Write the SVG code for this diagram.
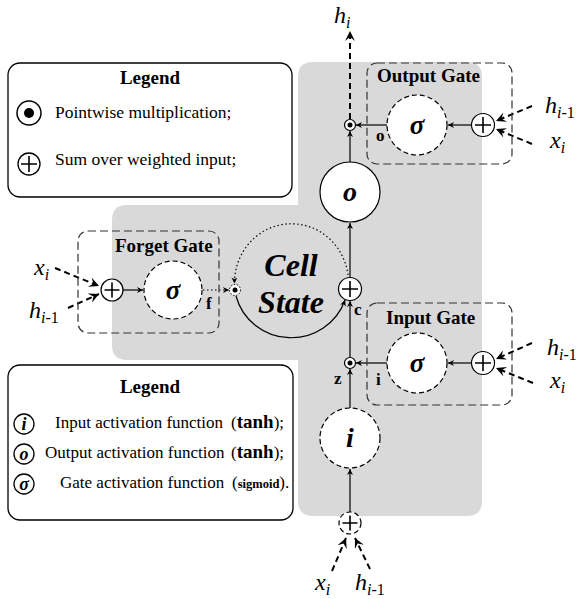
<svg xmlns="http://www.w3.org/2000/svg" width="579" height="599" viewBox="0 0 579 599">
<style>
text{font-family:"Liberation Serif","Times New Roman",serif;fill:#000}
.b{font-weight:bold}
.bi{font-weight:bold;font-style:italic}
.it{font-style:italic;font-size:24px}
.sub{font-size:16px}
.up{font-style:normal}
.lb{font-weight:bold;font-size:17px}
.ln{stroke:#000;stroke-width:1.2;fill:none}
.da{stroke:#000;stroke-width:2;fill:none;stroke-dasharray:6 4}
.dot{stroke:#000;stroke-width:1.2;fill:none;stroke-dasharray:1.5 2.5}
.gate{fill:none;stroke:#333;stroke-width:1.2;stroke-dasharray:8 4}
.wc{fill:#fff;stroke:#000;stroke-width:1.2}
.wcd{fill:#fff;stroke:#000;stroke-width:1.2;stroke-dasharray:5 3}
.leg{fill:#fff;stroke:#000;stroke-width:1.3}
.pl{stroke:#000;stroke-width:1.6;fill:none}
</style>
<defs>
<marker id="a" viewBox="0 0 10 10" refX="10" refY="5" markerWidth="7" markerHeight="6" markerUnits="userSpaceOnUse" orient="auto">
<path d="M0,0 L10,5 L0,10 L3,5 Z" fill="#000"/>
</marker>
<marker id="b" viewBox="0 0 10 10" refX="10" refY="5" markerWidth="11" markerHeight="10" markerUnits="userSpaceOnUse" orient="auto">
<path d="M0,0 L10,5 L0,10 L4,5 Z" fill="#000"/>
</marker>
</defs>

<path id="cell-area" d="M313,62 H467 Q482,62 482,77 V501 Q482,516 467,516 H313 Q298,516 298,501 V360 H127 Q112,360 112,345 V220 Q112,205 127,205 H298 V77 Q298,62 313,62 Z" fill="#d9d9d9"/>

<g id="legend1">
<rect class="leg" x="8" y="63" width="284" height="134" rx="12"/>
<text x="150" y="84" text-anchor="middle" class="b" font-size="19">Legend</text>
<circle cx="29" cy="113" r="12" fill="#fff" stroke="#000" stroke-width="1.5"/>
<circle cx="29" cy="113" r="5" fill="#000"/>
<text x="55" y="118" font-size="17.5">Pointwise multiplication;</text>
<circle cx="29" cy="164" r="11" fill="#fff" stroke="#000" stroke-width="1.3"/>
<path class="pl" d="M21,164 H37 M29,156 V172"/>
<text x="55" y="165" font-size="17.5">Sum over weighted input;</text>
</g>

<g id="legend2">
<rect class="leg" x="8" y="365" width="285" height="155" rx="12"/>
<text x="150" y="393" text-anchor="middle" class="b" font-size="19">Legend</text>
<circle cx="24" cy="424" r="10" fill="#fff" stroke="#000" stroke-width="1.3"/>
<text x="24" y="430" text-anchor="middle" class="bi" font-size="18">i</text>
<text x="55" y="428" font-size="17">Input activation function<tspan x="231">(</tspan><tspan class="b" font-size="19">tanh</tspan>);</text>
<circle cx="24" cy="454" r="10" fill="#fff" stroke="#000" stroke-width="1.3"/>
<text x="24" y="460" text-anchor="middle" class="bi" font-size="18">o</text>
<text x="45" y="458" font-size="17">Output activation function<tspan x="231">(</tspan><tspan class="b" font-size="19">tanh</tspan>);</text>
<circle cx="24" cy="484" r="10" fill="#fff" stroke="#000" stroke-width="1.3"/>
<text x="24" y="490" text-anchor="middle" class="bi" font-size="18">σ</text>
<text x="60" y="488" font-size="17">Gate activation function<tspan x="232">(</tspan><tspan class="b" font-size="12.5">sigmoid</tspan>).</text>
</g>

<g id="connectors">
<line class="da" x1="350" y1="119" x2="350" y2="31" marker-end="url(#b)"/>
<line class="ln" x1="350" y1="162" x2="350" y2="131" marker-end="url(#a)"/>
<line class="ln" x1="387" y1="125" x2="356" y2="125" marker-end="url(#a)"/>
<line class="ln" x1="471.5" y1="125" x2="448" y2="125" marker-end="url(#a)"/>
<line class="da" x1="532" y1="106" x2="496" y2="121" marker-end="url(#b)"/>
<line class="da" x1="532" y1="144" x2="496" y2="129" marker-end="url(#b)"/>
<line class="ln" x1="350" y1="277.5" x2="350" y2="223" marker-end="url(#a)"/>
<line class="ln" x1="350" y1="357.5" x2="350" y2="301" marker-end="url(#a)"/>
<line class="ln" x1="350" y1="408" x2="350" y2="369" marker-end="url(#a)"/>
<line class="ln" x1="350" y1="512" x2="350" y2="469" marker-end="url(#a)"/>
<line class="ln" x1="387" y1="363" x2="356" y2="363" marker-end="url(#a)"/>
<line class="ln" x1="471.5" y1="363" x2="448" y2="363" marker-end="url(#a)"/>
<line class="da" x1="532" y1="343" x2="496" y2="359" marker-end="url(#b)"/>
<line class="da" x1="533" y1="383" x2="496" y2="368" marker-end="url(#b)"/>
<line class="da" x1="332" y1="571" x2="346" y2="538" marker-end="url(#b)"/>
<line class="da" x1="370" y1="569" x2="355" y2="538" marker-end="url(#b)"/>
<line class="da" x1="55" y1="268" x2="99" y2="286" marker-end="url(#b)"/>
<line class="da" x1="68" y1="308" x2="99" y2="294" marker-end="url(#b)"/>
<line class="ln" x1="123" y1="290" x2="143" y2="290" marker-end="url(#a)"/>
<line class="dot" x1="203" y1="290" x2="229" y2="290" marker-end="url(#a)"/>
<path class="dot" d="M348,275 A57,59 0 0 0 234.5,283.5" marker-end="url(#a)"/>
<path class="ln" d="M236,296 A57,56 0 0 0 345,300" marker-end="url(#a)"/>
</g>

<g id="output-gate">
<rect class="gate" x="367" y="63" width="145" height="101" rx="10"/>
<text x="377" y="82" class="b" font-size="19">Output Gate</text>
<circle class="wcd" cx="417" cy="125" r="30"/>
<text x="417" y="134" text-anchor="middle" class="bi" font-size="27">σ</text>
<circle class="wc" cx="483" cy="125" r="11.5"/>
<path class="pl" d="M475,125 H491 M483,117 V133"/>
<text x="376" y="141" class="lb">o</text>
</g>

<g id="output-mult">
<circle class="wc" cx="350" cy="125" r="5.5"/>
<circle cx="350" cy="125" r="2.5" fill="#000"/>
</g>

<g id="output-activation">
<circle class="wc" cx="350" cy="192" r="30"/>
<text x="350" y="201" text-anchor="middle" class="bi" font-size="28">o</text>
</g>

<g id="cell-sum">
<circle class="wc" cx="350" cy="289" r="11.5"/>
<path class="pl" d="M342,289 H358 M350,281 V297"/>
<text x="354" y="315" class="lb">c</text>
</g>

<g id="cell-state">
<text x="291" y="276" text-anchor="middle" class="bi" font-size="32">Cell</text>
<text x="291" y="313" text-anchor="middle" class="bi" font-size="32">State</text>
</g>

<g id="forget-mult">
<circle cx="235" cy="290" r="5.5" fill="#fff" stroke="#000" stroke-width="1" stroke-dasharray="1.5 1.5"/>
<circle cx="235" cy="290" r="2.5" fill="#000"/>
</g>

<g id="forget-gate">
<rect class="gate" x="78" y="231" width="141" height="102" rx="10"/>
<text x="115" y="252" class="b" font-size="19">Forget Gate</text>
<circle class="wc" cx="112" cy="290" r="11"/>
<path class="pl" d="M104.5,290 H119.5 M112,282.5 V297.5"/>
<circle class="wcd" cx="173" cy="290" r="29"/>
<text x="173" y="299" text-anchor="middle" class="bi" font-size="27">σ</text>
<text x="206" y="309" class="lb">f</text>
</g>

<g id="input-gate">
<rect class="gate" x="367" y="303" width="145" height="102" rx="10"/>
<text x="386" y="324" class="b" font-size="19">Input Gate</text>
<circle class="wcd" cx="417" cy="363" r="30"/>
<text x="417" y="372" text-anchor="middle" class="bi" font-size="27">σ</text>
<circle class="wc" cx="483" cy="363" r="11.5"/>
<path class="pl" d="M475,363 H491 M483,355 V371"/>
<text x="376" y="385" class="lb">i</text>
</g>

<g id="input-mult">
<circle class="wc" cx="350" cy="363" r="5.5"/>
<circle cx="350" cy="363" r="2.5" fill="#000"/>
<text x="334" y="384" class="lb">z</text>
</g>

<g id="input-activation">
<circle class="wcd" cx="350" cy="438" r="30"/>
<text x="350" y="447" text-anchor="middle" class="bi" font-size="28">i</text>
</g>

<g id="input-sum">
<circle class="wcd" cx="350" cy="523" r="11"/>
<path class="pl" d="M342.5,523 H357.5 M350,515.5 V530.5"/>
</g>

<g id="labels">
<text x="334" y="23" class="it">h<tspan class="sub" dy="5">i</tspan></text>
<text x="545" y="113" class="it">h<tspan class="sub" dy="5">i<tspan class="up">-1</tspan></tspan></text>
<text x="550" y="148" class="it">x<tspan class="sub" dy="5">i</tspan></text>
<text x="547" y="355" class="it">h<tspan class="sub" dy="5">i<tspan class="up">-1</tspan></tspan></text>
<text x="550" y="388" class="it">x<tspan class="sub" dy="5">i</tspan></text>
<text x="34" y="275" class="it">x<tspan class="sub" dy="5">i</tspan></text>
<text x="29" y="318" class="it">h<tspan class="sub" dy="5">i<tspan class="up">-1</tspan></tspan></text>
<text x="315" y="590" class="it">x<tspan class="sub" dy="5">i</tspan></text>
<text x="355" y="590" class="it">h<tspan class="sub" dy="5">i<tspan class="up">-1</tspan></tspan></text>
</g>
</svg>
